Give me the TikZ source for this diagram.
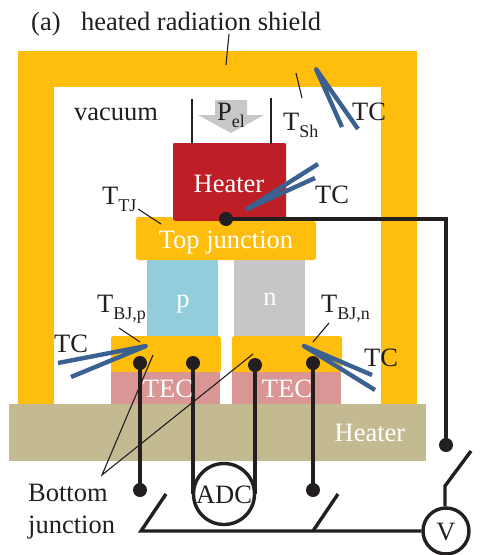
\documentclass[tikz,border=0pt]{standalone}
\usepackage{fontspec}
\setmainfont{Liberation Serif}
\definecolor{shieldc}{HTML}{FFBE0E}
\definecolor{redc}{HTML}{BE1E26}
\definecolor{pc}{HTML}{92CDDC}
\definecolor{nc}{HTML}{C4C6C8}
\definecolor{tecc}{HTML}{DA9694}
\definecolor{basec}{HTML}{C3BA92}
\definecolor{bluec}{HTML}{3A6190}
\definecolor{grayc}{HTML}{C8C8C8}
\definecolor{inkc}{HTML}{231F20}
\newcommand{\Sb}[1]{\raisebox{-0.28em}{\fontsize{18}{18}\selectfont #1}}
\tikzset{
  lbl/.style={anchor=base west,inner sep=0pt,text=inkc,font=\fontsize{26.5}{30}\selectfont},
  wlbl/.style={anchor=base,inner sep=0pt,text=white,font=\fontsize{26.5}{30}\selectfont},
  wire/.style={draw=inkc,line width=3.4pt},
  thin line/.style={draw=inkc,line width=1.1pt},
  tcwire/.style={draw=bluec,line width=4.4pt},
  dot/.style={circle,fill=inkc,minimum size=14pt,inner sep=0pt},
  meter/.style={circle,draw=inkc,line width=3.4pt,inner sep=0pt,fill=none}
}
\begin{document}
\begin{tikzpicture}[x=1pt,y=-1pt]
\useasboundingbox (0,0) rectangle (481,555);
% shield
\fill[shieldc] (18,51) rectangle (417,404);
\fill[white] (54,87) rectangle (381,404);
% base heater
\fill[basec] (9,404) rectangle (426,461);
% legs, TEC
\fill[pc] (147,255) rectangle (218,340);
\fill[nc] (234,255) rectangle (305,340);
\fill[tecc] (111,368) rectangle (220,404);
\fill[tecc] (232,368) rectangle (341,404);
\fill[redc,rounded corners=1pt] (173,143) rectangle (286,222);
\fill[shieldc,rounded corners=2.5pt] (136,217) -- (173,217) -- (173,221) -- (316,221) -- (316,260) -- (136,260) -- cycle;
\fill[shieldc,rounded corners=2.5pt] (111,336) rectangle (221,372);
\fill[shieldc,rounded corners=2.5pt] (232,336) rectangle (342,372);
% Pel arrow
\fill[grayc] (215,100) -- (247,100) -- (247,115) -- (264,115) -- (231,133) -- (198,115) -- (215,115) -- cycle;
% named points
\coordinate (pelA) at (192,99);   \coordinate (pelB) at (192,144);
\coordinate (pelC) at (271,98);   \coordinate (pelD) at (271,144);
\coordinate (shA) at (229,34);    \coordinate (shB) at (226,65);
\coordinate (tshA) at (296,73);   \coordinate (tshB) at (302,98);
\coordinate (ttjA) at (138,209);  \coordinate (ttjB) at (161,224);
\coordinate (bjpA) at (119,328);  \coordinate (bjpB) at (140,342);
\coordinate (bjnA) at (329,323);  \coordinate (bjnB) at (313,342);
\coordinate (bot) at (102,475);   \coordinate (botA) at (153,355); \coordinate (botB) at (253,354);
\coordinate (tc1) at (316,69);    \coordinate (tc1a) at (342,127); \coordinate (tc1b) at (358,129);
\coordinate (tc2) at (247,209);   \coordinate (tc2a) at (318,164); \coordinate (tc2b) at (315,178);
\coordinate (tc3) at (146,346);   \coordinate (tc3a) at (58,363);  \coordinate (tc3b) at (71,377);
\coordinate (tc4) at (304,346);   \coordinate (tc4a) at (372,375); \coordinate (tc4b) at (375,390);
\coordinate (corner) at (446,219);
\coordinate (swTop) at (471,451); \coordinate (swKnee) at (445,486);
\coordinate (swL1) at (166,494);  \coordinate (swL2) at (141,531);
\coordinate (swR1) at (338,494);  \coordinate (swR2) at (313,531);
% thin leaders
\draw[thin line] (pelA) -- (pelB);
\draw[thin line] (pelC) -- (pelD);
\draw[thin line] (shA) -- (shB);
\draw[thin line] (tshA) -- (tshB);
\draw[thin line] (ttjA) -- (ttjB);
\draw[thin line] (bjpA) -- (bjpB);
\draw[thin line] (bjnA) -- (bjnB);
\draw[thin line] (botA) -- (bot) -- (botB);
% thermocouples
\draw[tcwire,line join=round] (tc1a) -- (tc1) -- (tc1b);
\draw[tcwire,line join=round] (tc2a) -- (tc2) -- (tc2b);
\draw[tcwire,line join=round] (tc3a) -- (tc3) -- (tc3b);
\draw[tcwire,line join=round] (tc4a) -- (tc4) -- (tc4b);
% dots
\node[dot] (dT) at (226,219) {};
\node[dot] (dP1) at (140,363) {};
\node[dot] (dP2) at (193,363) {};
\node[dot] (dN1) at (255,365) {};
\node[dot] (dN2) at (313,363) {};
\node[dot] (dP1b) at (140,490) {};
\node[dot] (dN2b) at (313,490) {};
\node[dot] (dS) at (446,445) {};
\node[meter,minimum size=61pt] (adc) at (224,494) {};
\node[meter,minimum size=46pt] (vm) at (446,531) {};
% wires
\draw[wire] (dT.center) -- (corner) -- (dS.center);
\draw[wire] (dP1.center) -- (dP1b.center);
\draw[wire] (dN2.center) -- (dN2b.center);
\draw[wire] (dP2.center) -- (dP2 |- adc.center);
\draw[wire] (dN1.center) -- (dN1 |- adc.center);
\draw[wire,line join=miter] (swTop) -- (swKnee) -- (vm.north -| swKnee);
\draw[wire,line join=miter] (swL1) -- (swL2) -- (vm.west);
\draw[wire] (swR1) -- (swR2);
% labels
\node[lbl] (la) at (31,30) {(a)};
\node[lbl] (lshield) at (81,30) {heated radiation shield};
\node[lbl] (lvac) at (74,120) {vacuum};
\node[lbl] (lpel) at (217,120) {P\Sb{el}};
\node[lbl] (ltsh) at (283,130) {T\Sb{Sh}};
\node[lbl] (ltc1) at (352,120) {TC};
\node[wlbl] (lheat) at (229,192) {Heater};
\node[lbl] (ltc2) at (315,203) {TC};
\node[lbl] (lttj) at (102,204) {T\Sb{TJ}};
\node[wlbl] (ltop) at (226,248) {Top junction};
\node[wlbl] (lp) at (183,307) {p};
\node[wlbl] (ln) at (270,305) {n};
\node[lbl] (lbjp) at (97,312) {T\Sb{BJ,p}};
\node[lbl] (lbjn) at (321,312) {T\Sb{BJ,n}};
\node[lbl] (ltc3) at (54,352) {TC};
\node[lbl] (ltc4) at (364,366) {TC};
\node[wlbl] (ltec1) at (168,397) {TEC};
\node[wlbl] (ltec2) at (287,397) {TEC};
\node[wlbl] (lbase) at (370,441) {Heater};
\node[lbl] (lbot) at (28,501) {Bottom};
\node[lbl] (ljun) at (28,533) {junction};
\node[lbl,anchor=base] (ladc) at (adc |- 0,503) {ADC};
\node[lbl,anchor=base] (lv) at (vm |- 0,540) {V};
\end{tikzpicture}
\end{document}
